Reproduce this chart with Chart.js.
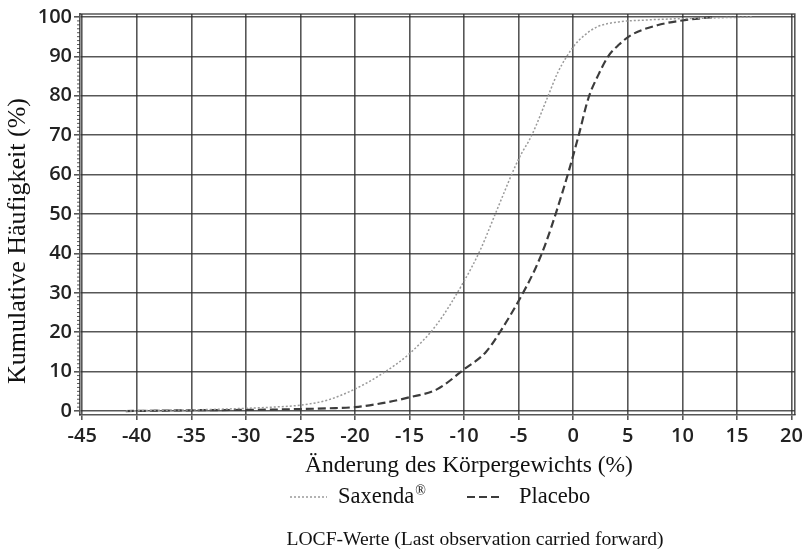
<!DOCTYPE html>
<html>
<head>
<meta charset="utf-8">
<script src="https://cdn.jsdelivr.net/npm/chart.js@4/dist/chart.umd.min.js"></script>
<style>
  html, body { margin: 0; padding: 0; background: #fff; }
  #wrap { width: 807px; height: 554px; }
</style>
</head>
<body>
<div id="wrap"><canvas id="cdf"></canvas></div>
<script>
// tick values
const xTicks = [-45, -40, -35, -30, -25, -20, -15, -10, -5, 0, 5, 10, 15, 20];
const yTicks = [0, 10, 20, 30, 40, 50, 60, 70, 80, 90, 100];

// Saxenda cumulative curve
const saxX = [-41, -38, -35, -32, -30, -27.5, -25, -22.5, -20, -17.5, -15, -12.5, -10, -8.5, -7, -5, -3.8, -2.3, -1.4, 0, 1, 2.2, 4, 6.5, 9, 12, 16.5];
const saxY = [0, 0.2, 0.3, 0.5, 0.7, 1.0, 1.5, 2.8, 5.6, 9.5, 14.6, 22, 33, 41, 51, 64, 70, 80, 86, 92.4, 95.3, 97.5, 98.7, 99.2, 99.5, 99.7, 100];

// Placebo cumulative curve
const plaX = [-41, -35, -30, -25, -22.5, -20, -17.5, -15, -12.5, -10, -8, -6.5, -5, -3.5, -2.6, -1.5, -0.4, 0.5, 1.4, 2.3, 3.2, 4.2, 5.3, 7.7, 10.2, 11.5, 13];
const plaY = [0, 0.2, 0.3, 0.5, 0.7, 1.0, 2.0, 3.5, 5.5, 10.6, 15, 21, 28, 36, 42, 51, 61, 70, 79.5, 85.3, 90, 93, 95.4, 97.9, 99.2, 99.6, 100];

const xTitle = 'Änderung des Körpergewichts (%)';
const yTitle = 'Kumulative Häufigkeit (%)';
const note = 'LOCF-Werte (Last observation carried forward)';

const gridCol = 'rgba(45,45,45,0.8)';
const serif = '"Liberation Serif", "Times New Roman", serif';

function toPoints(xs, ys) {
    return xs.map((x, i) => ({x: x, y: ys[i]}));
}

// frame, minor ticks, titles, legend and footnote
const extras = {
    id: 'extras',
    afterDraw(chart) {
        const ctx = chart.ctx;
        const a = chart.chartArea;
        const ys = chart.scales.y;
        ctx.save();
        ctx.strokeStyle = gridCol;
        ctx.lineWidth = 1.6;
        ctx.beginPath();
        ctx.moveTo(a.left, a.top);
        ctx.lineTo(a.right, a.top);
        ctx.lineTo(a.right, a.bottom);
        ctx.stroke();

        // minor ticks on y
        ctx.lineWidth = 1;
        for (let v = 1; v < 100; v++) {
            if (v % 10 === 0) continue;
            const py = ys.getPixelForValue(v);
            ctx.beginPath();
            ctx.moveTo(a.left - 3, py);
            ctx.lineTo(a.left, py);
            ctx.stroke();
        }

        ctx.fillStyle = '#111';
        ctx.textAlign = 'center';
        ctx.textBaseline = 'middle';
        ctx.font = '23.5px ' + serif;
        ctx.fillText(xTitle, 469, 466);
        ctx.font = '19.6px ' + serif;
        ctx.fillText(note, 475, 540);

        ctx.save();
        ctx.font = '26px ' + serif;
        ctx.translate(18, 241);
        ctx.rotate(-Math.PI / 2);
        ctx.fillText(yTitle, 0, 0);
        ctx.restore();

        // legend
        ctx.textAlign = 'left';
        const ly = 497;
        const items = [[290, 327, 338], [467, 503, 519]];
        chart.data.datasets.forEach((ds, i) => {
            const it = items[i];
            ctx.strokeStyle = ds.borderColor;
            ctx.lineWidth = ds.borderWidth;
            ctx.setLineDash(ds.borderDash);
            ctx.beginPath();
            ctx.moveTo(it[0], ly);
            ctx.lineTo(it[1], ly);
            ctx.stroke();
            ctx.setLineDash([]);
            let txt = ds.label;
            let sup = '';
            if (txt.endsWith('®')) { sup = '®'; txt = txt.slice(0, -1); }
            ctx.font = '22.5px ' + serif;
            ctx.fillText(txt, it[2], ly);
            if (sup) {
                const w = ctx.measureText(txt).width;
                ctx.font = '14px ' + serif;
                ctx.fillText(sup, it[2] + w + 1, ly - 6);
            }
        });
        ctx.restore();
    }
};

const ctx = document.getElementById('cdf');
new Chart(ctx, {
    type: 'line',
    data: {
        datasets: [
            {
                label: 'Saxenda®',
                data: toPoints(saxX, saxY),
                borderColor: '#9a9a9a',
                borderWidth: 1.5,
                borderDash: [2, 2],
                pointRadius: 0,
                cubicInterpolationMode: 'monotone',
                fill: false
            },
            {
                label: 'Placebo',
                data: toPoints(plaX, plaY),
                borderColor: '#3c3c3c',
                borderWidth: 2.2,
                borderDash: [8, 4],
                pointRadius: 0,
                cubicInterpolationMode: 'monotone',
                fill: false
            }
        ]
    },
    options: {
        responsive: true,
        maintainAspectRatio: false,
        animation: false,
        layout: {padding: {left: 0, right: 9, top: 12, bottom: 109}},
        plugins: {
            legend: {display: false},
            tooltip: {enabled: false}
        },
        scales: {
            x: {
                type: 'linear',
                min: -45.2,
                max: 20.3,
                afterBuildTicks: (s) => { s.ticks = xTicks.map(v => ({value: v})); },
                afterFit: (s) => { s.height = 30; },
                grid: {color: gridCol, lineWidth: 1.6, tickLength: 5, tickColor: gridCol},
                border: {color: gridCol, width: 1.6},
                ticks: {
                    color: '#222',
                    padding: 4,
                    maxRotation: 0,
                    autoSkip: false,
                    font: {family: '"Open Sans"', size: 20, weight: '600'}
                }
            },
            y: {
                type: 'linear',
                min: -1,
                max: 100.75,
                afterBuildTicks: (s) => { s.ticks = yTicks.map(v => ({value: v})); },
                afterFit: (s) => { s.width = 80; },
                grid: {color: gridCol, lineWidth: 1.6, tickLength: 6, tickColor: gridCol},
                border: {color: gridCol, width: 1.6},
                ticks: {
                    color: '#222',
                    padding: 2,
                    autoSkip: false,
                    font: {family: '"Open Sans"', size: 20, weight: '600'}
                }
            }
        }
    },
    plugins: [extras]
});
</script>
</body>
</html>
